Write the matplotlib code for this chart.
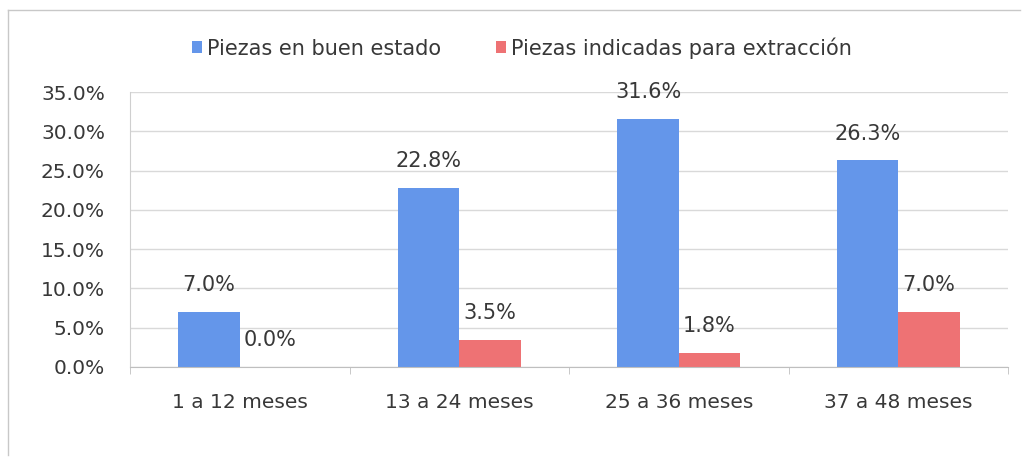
import matplotlib
matplotlib.use("Agg")
import matplotlib.pyplot as plt
import matplotlib.ticker as ticker
import numpy as np

categories = ["1 a 12 meses", "13 a 24 meses", "25 a 36 meses", "37 a 48 meses"]
buen_estado = [7.0, 22.8, 31.6, 26.3]
extraccion = [0.0, 3.5, 1.8, 7.0]
series_names = ["Piezas en buen estado", "Piezas indicadas para extracción"]

blue = "#6496EA"
red = "#EE7274"
text_color = "#383838"

plt.rcParams['font.family'] = ['DejaVu Sans']

fig = plt.figure(figsize=(10.26, 4.70), dpi=100)
# outer chart border (scan shows only top/left edge)
fig.add_artist(plt.Line2D([8/1026, 1020/1026], [1 - 10/470, 1 - 10/470], color="#c8c8c8", lw=1))
fig.add_artist(plt.Line2D([8/1026, 8/1026], [1 - 10/470, 1 - 455/470], color="#c8c8c8", lw=1))

ax = fig.add_axes([130/1026, 1 - 367/470, (1008 - 130)/1026, (367 - 92)/470])

x = np.arange(len(categories))
w = 0.28
b1 = ax.bar(x - w/2, buen_estado, w, color=blue, label=series_names[0])
b2 = ax.bar(x + w/2, extraccion, w, color=red, label=series_names[1])

# value labels above each bar
for bars, vals in ((b1, buen_estado), (b2, extraccion)):
    for rect, v in zip(bars, vals):
        ax.text(rect.get_x() + rect.get_width()/2, v + 3.4, f"{v:.1f}%",
                ha="center", va="center", fontsize=15, color=text_color)

ax.set_xlim(-0.5, len(categories) - 0.5)
ax.set_ylim(0, 35)
ax.yaxis.set_major_locator(ticker.MultipleLocator(5))
ax.yaxis.set_major_formatter(ticker.FuncFormatter(lambda v, p: f"{v:.1f}%"))
ax.yaxis.grid(True, color="#d9d9d9", lw=1)
ax.set_axisbelow(True)

ax.set_xticks(x)
ax.set_xticklabels(categories)
ax.xaxis.set_minor_locator(ticker.FixedLocator(np.arange(-0.5, len(categories), 1)))
ax.tick_params(axis="x", which="major", length=0, pad=19, labelsize=14.5, labelcolor=text_color)
ax.tick_params(axis="x", which="minor", length=5, color="#bfbfbf")
ax.tick_params(axis="y", length=0, pad=18, labelsize=14.5, labelcolor=text_color)

for s in ("top", "right"):
    ax.spines[s].set_visible(False)
ax.spines["left"].set_color("#cfcfcf")
ax.spines["bottom"].set_color("#bfbfbf")

leg = fig.legend(handles=[b1, b2], labels=series_names, loc="center",
                 bbox_to_anchor=(522/1026, 1 - 48/470), ncol=2, frameon=False,
                 fontsize=15, handlelength=0.5, handleheight=0.5, handletextpad=0.25,
                 columnspacing=2.6)
for t in leg.get_texts():
    t.set_color(text_color)

fig.savefig("out.png", dpi=100)
